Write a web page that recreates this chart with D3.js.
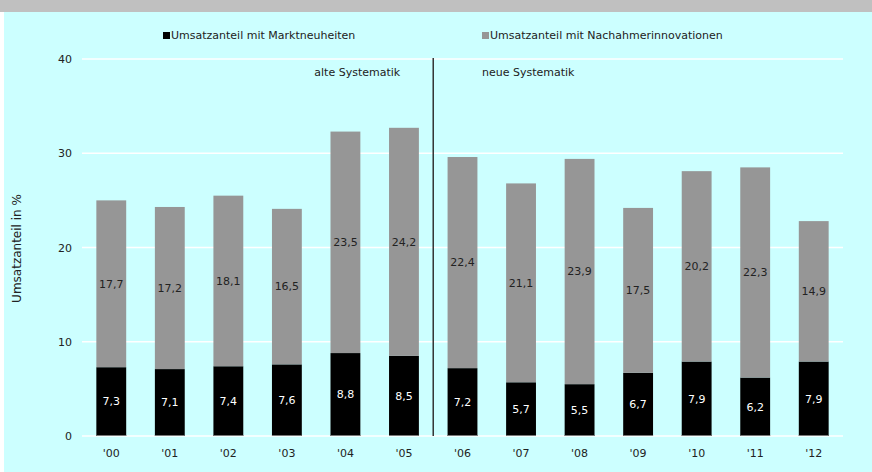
<!DOCTYPE html>
<html>
<head>
<meta charset="utf-8">
<script src="https://cdn.jsdelivr.net/npm/d3@7"></script>
<style>
  html, body { margin: 0; padding: 0; background: #fff; }
  svg { display: block; font-family: "DejaVu Sans", Verdana, sans-serif; }
</style>
</head>
<body>
<div id="chart"></div>
<script>
const years = ["'00", "'01", "'02", "'03", "'04", "'05", "'06", "'07", "'08", "'09", "'10", "'11", "'12"];
const marktneuheiten = [7.3, 7.1, 7.4, 7.6, 8.8, 8.5, 7.2, 5.7, 5.5, 6.7, 7.9, 6.2, 7.9];
const nachahmer = [17.7, 17.2, 18.1, 16.5, 23.5, 24.2, 22.4, 21.1, 23.9, 17.5, 20.2, 22.3, 14.9];
const yTicks = [0, 10, 20, 30, 40];
const seriesNames = ["Umsatzanteil mit Marktneuheiten", "Umsatzanteil mit Nachahmerinnovationen"];
const colors = ["#000000", "#969696"];

const W = 872, H = 472;
const margin = { top: 59, right: 29, bottom: 36, left: 82 };

const svg = d3.select("#chart").append("svg")
    .attr("width", W)
    .attr("height", H);

// background + header strip
svg.append("rect").attr("width", W).attr("height", H).attr("fill", "#ffffff");
svg.append("rect").attr("width", W).attr("height", 12).attr("fill", "#c0c0c0");
svg.append("rect").attr("x", 4).attr("y", 12).attr("width", W - 4).attr("height", H - 12).attr("fill", "#ccffff");

const x = d3.scaleBand()
    .domain(years)
    .range([margin.left, W - margin.right])
    .paddingInner(0.49)
    .paddingOuter(0.245);

const y = d3.scaleLinear()
    .domain([0, 40])
    .range([H - margin.bottom, margin.top]);

// gridlines
svg.append("g")
    .selectAll("line")
    .data(yTicks)
    .join("line")
    .attr("x1", margin.left)
    .attr("x2", W - margin.right)
    .attr("y1", d => y(d))
    .attr("y2", d => y(d))
    .attr("stroke", "#ffffff")
    .attr("stroke-width", 1.5);

// y axis labels
const yAxis = svg.append("g")
    .attr("transform", `translate(${margin.left - 10},0)`)
    .call(d3.axisLeft(y).tickValues(yTicks).tickSize(0).tickPadding(0));
yAxis.select(".domain").remove();
yAxis.selectAll("text")
    .attr("fill", "#222")
    .style("font-size", "11px")
    .style("font-family", "DejaVu Sans, sans-serif");

// x axis labels
const xAxis = svg.append("g")
    .attr("transform", `translate(0,${y(0) + 13})`)
    .call(d3.axisBottom(x).tickSize(0).tickPadding(0));
xAxis.select(".domain").remove();
xAxis.selectAll("text")
    .attr("fill", "#222")
    .style("font-size", "11px")
    .style("font-family", "DejaVu Sans, sans-serif");

// stacked bars
const rows = years.map((yr, i) => ({ year: yr, a: marktneuheiten[i], b: nachahmer[i] }));
const stacked = d3.stack().keys(["a", "b"])(rows);

svg.append("g")
    .selectAll("g")
    .data(stacked)
    .join("g")
    .attr("fill", (d, i) => colors[i])
    .selectAll("rect")
    .data(d => d)
    .join("rect")
    .attr("x", d => x(d.data.year))
    .attr("width", x.bandwidth())
    .attr("y", d => y(d[1]))
    .attr("height", d => y(d[0]) - y(d[1]));

// thin line at bar base
svg.append("g")
    .selectAll("rect")
    .data(rows)
    .join("rect")
    .attr("x", d => x(d.year))
    .attr("width", x.bandwidth())
    .attr("y", y(0) - 1)
    .attr("height", 1)
    .attr("fill", "#777");

// value labels
const fmt = v => v.toFixed(1).replace(".", ",");
stacked.forEach((s, si) => {
    svg.append("g")
        .selectAll("text")
        .data(s)
        .join("text")
        .attr("x", d => x(d.data.year) + x.bandwidth() / 2)
        .attr("y", d => (y(d[0]) + y(d[1])) / 2)
        .attr("dy", "0.35em")
        .attr("text-anchor", "middle")
        .attr("fill", si === 0 ? "#ffffff" : "#222")
        .style("font-size", "11px")
        .text(d => fmt(d[1] - d[0]));
});

// divider between systematics
const divX = x("'06") - x.step() * x.paddingInner() / 2;
svg.append("line")
    .attr("x1", divX).attr("x2", divX)
    .attr("y1", y(40) - 1).attr("y2", y(0))
    .attr("stroke", "#333")
    .attr("stroke-width", 1.5);

svg.append("text")
    .attr("x", divX - 76)
    .attr("y", 76)
    .attr("text-anchor", "middle")
    .attr("fill", "#222")
    .style("font-size", "11px")
    .text("alte Systematik");

svg.append("text")
    .attr("x", divX + 95)
    .attr("y", 76)
    .attr("text-anchor", "middle")
    .attr("fill", "#222")
    .style("font-size", "11px")
    .text("neue Systematik");

// y axis title
svg.append("text")
    .attr("transform", `translate(21,${(y(0) + y(40)) / 2 + 1}) rotate(-90)`)
    .attr("text-anchor", "middle")
    .attr("fill", "#222")
    .style("font-size", "12px")
    .text("Umsatzanteil in %");

// legend
const legendX = [163, 482];
const legend = svg.append("g")
    .selectAll("g")
    .data(seriesNames)
    .join("g")
    .attr("transform", (d, i) => `translate(${legendX[i]},32)`);
legend.append("rect")
    .attr("width", 7).attr("height", 7)
    .attr("fill", (d, i) => colors[i]);
legend.append("text")
    .attr("x", 8)
    .attr("y", 3.5)
    .attr("dy", "0.35em")
    .attr("fill", "#222")
    .style("font-size", "11px")
    .text(d => d);
</script>
</body>
</html>
